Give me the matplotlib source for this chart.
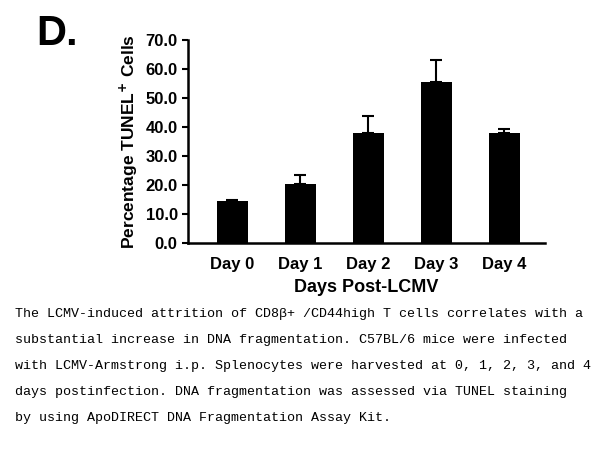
import matplotlib
matplotlib.use("Agg")
import matplotlib.pyplot as plt

categories = ["Day 0", "Day 1", "Day 2", "Day 3", "Day 4"]
values = [14.3, 20.3, 37.8, 55.5, 38.0]
errors = [0.6, 3.2, 6.0, 7.5, 1.4]
yticks = [0, 10, 20, 30, 40, 50, 60, 70]

plt.rcParams["font.family"] = "Liberation Sans"
fig = plt.figure(figsize=(6.05, 4.54), dpi=100)
ax = fig.add_axes([0.311, 0.465, 0.59, 0.447])
x = range(len(categories))
ax.bar(x, values, width=0.45, color="black")
ax.errorbar(x, values, yerr=[[0]*5, errors], fmt="none", ecolor="black", capsize=4, elinewidth=1.5, capthick=1.5)
ax.set_ylim(0, 70)
ax.set_xlim(-0.65, 4.6)
ax.set_yticks(yticks)
ax.set_yticklabels([f"{v:.1f}" for v in yticks], fontsize=12, fontweight="bold")
ax.set_xticks(list(x))
ax.set_xticklabels(categories, fontsize=12, fontweight="bold")
ax.tick_params(axis="x", length=0, pad=10)
ax.tick_params(axis="y", width=1.5, length=4)
for s in ["top", "right"]:
    ax.spines[s].set_visible(False)
for s in ["left", "bottom"]:
    ax.spines[s].set_linewidth(1.8)
ax.set_xlabel("Days Post-LCMV", fontsize=13, fontweight="bold", labelpad=5)
ax.set_ylabel("Percentage TUNEL$^{\\mathbf{+}}$ Cells", fontsize=12.5, fontweight="bold", labelpad=4)
fig.text(0.06, 0.90, "D.", fontsize=30, fontweight="bold")

caption = ("The LCMV-induced attrition of CD8\u03b2+ /CD44high T cells correlates with a\n"
           "substantial increase in DNA fragmentation. C57BL/6 mice were infected\n"
           "with LCMV-Armstrong i.p. Splenocytes were harvested at 0, 1, 2, 3, and 4\n"
           "days postinfection. DNA fragmentation was assessed via TUNEL staining\n"
           "by using ApoDIRECT DNA Fragmentation Assay Kit.")
fig.text(0.025, 0.322, caption, fontsize=9.6, family="Liberation Mono", va="top", linespacing=2.55)
fig.savefig("out.png", dpi=100)
